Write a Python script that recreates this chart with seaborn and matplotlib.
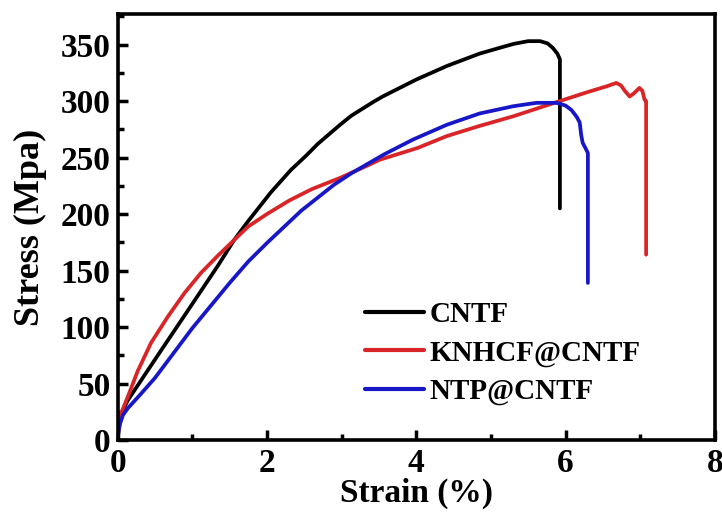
import matplotlib
matplotlib.use("Agg")
import matplotlib.pyplot as plt
from matplotlib.ticker import MultipleLocator
import seaborn as sns
import pandas as pd

# ---- data ----
series_names = ["CNTF", "KNHCF@CNTF", "NTP@CNTF"]

cntf_strain = [0, 0.01, 0.03, 0.06, 0.134, 0.447, 0.67, 0.894, 1.117, 1.34, 1.56,
               1.74, 2.05, 2.32, 2.53, 2.68, 2.98, 3.13, 3.42, 3.55, 4.0, 4.41,
               4.85, 5.3, 5.5, 5.66, 5.76, 5.83, 5.89, 5.925, 5.925]
cntf_stress = [0, 8, 17, 25, 35, 66, 88, 110, 132, 154, 177,
               193, 219, 239, 252, 262, 279, 287, 299, 304, 319, 331,
               342, 350.5, 353, 353, 351, 347, 342, 337, 205]

knhcf_strain = [0, 0.01, 0.03, 0.06, 0.134, 0.268, 0.447, 0.67, 0.894, 1.117, 1.34,
                1.56, 1.75, 2.0, 2.3, 2.6, 2.98, 3.35, 3.51, 4.02, 4.41, 4.85, 5.3,
                5.925, 6.3, 6.55, 6.68, 6.74, 6.8, 6.86, 6.92, 6.99, 7.03, 7.06,
                7.08, 7.08]
knhcf_stress = [0, 8, 17, 26, 38, 61, 86, 109, 130, 148, 163,
                177, 189, 200, 212, 222, 232, 243, 248, 258.5, 269, 278, 286.5,
                300, 308, 313, 316, 314, 308.6, 304, 307, 311.6, 309, 301,
                300, 164]

ntp_strain = [0, 0.01, 0.03, 0.07, 0.134, 0.3, 0.5, 0.75, 1.0, 1.25, 1.5, 1.75,
              2.01, 2.46, 2.9, 3.13, 3.575, 3.96, 4.41, 4.85, 5.3, 5.61, 5.88, 6.0,
              6.08, 6.15, 6.19, 6.21, 6.23, 6.27, 6.3, 6.3]
ntp_stress = [0, 7, 14, 22, 28, 40, 55, 77, 99, 119, 139, 158,
              175, 203, 226, 236, 253, 266, 279, 289, 295.4, 298.4, 298.4, 296,
              292, 286, 281, 270, 263, 258, 254, 139]

x_ticks = [0, 2, 4, 6, 8]
y_ticks = [0, 50, 100, 150, 200, 250, 300, 350]
series_colors = ["#000000", "#d92528", "#1717c8"]

# ---- build long-form table ----
frames = []
for name, xs, ys in zip(series_names,
                        [cntf_strain, knhcf_strain, ntp_strain],
                        [cntf_stress, knhcf_stress, ntp_stress]):
    frames.append(pd.DataFrame({"Strain": xs, "Stress": ys, "Sample": name}))
df = pd.concat(frames, ignore_index=True)

sns.set_theme(style="ticks")
plt.rcParams["font.family"] = ["Liberation Serif", "DejaVu Serif"]
plt.rcParams["font.weight"] = "bold"
for key in ["text.color", "axes.labelcolor", "xtick.color", "ytick.color",
            "axes.edgecolor"]:
    plt.rcParams[key] = "black"

fig = plt.figure(figsize=(7.22, 5.12), dpi=100)
ax = fig.add_axes([0.163, 0.1406, 0.827, 0.832])

sns.lineplot(data=df, x="Strain", y="Stress", hue="Sample", hue_order=series_names,
             palette=series_colors, estimator=None, sort=False, units="Sample",
             linewidth=2.7, ax=ax)

ax.set_xlim(0, 8)
ax.set_ylim(0, 377)
ax.set_xticks(x_ticks)
ax.set_yticks(y_ticks)
ax.xaxis.set_minor_locator(MultipleLocator(1))
ax.yaxis.set_minor_locator(MultipleLocator(25))
ax.tick_params(axis="both", which="major", direction="in", length=7, width=2.5,
               labelsize=24, colors="black")
ax.tick_params(axis="x", which="major", pad=6)
ax.tick_params(axis="y", which="major", pad=5)
ax.tick_params(axis="both", which="minor", direction="in", length=4, width=2.5,
               colors="black")
for lab in ax.get_xticklabels() + ax.get_yticklabels():
    lab.set_fontweight("bold")
for sp in ax.spines.values():
    sp.set_linewidth(2.6)
    sp.set_color("black")
    sp.set_visible(True)

ax.set_xlabel("Strain (%)", fontsize=24, fontweight="bold", labelpad=-1)
ax.set_ylabel("Stress (Mpa)", fontsize=26, fontweight="bold", labelpad=10)

leg = ax.legend(loc="upper left", bbox_to_anchor=(0.395, 0.353), frameon=False,
                handlelength=2.0, handletextpad=0.2,
                labelspacing=0.38, borderaxespad=0,
                prop={"weight": "bold", "size": 21})
for line in leg.get_lines():
    line.set_linewidth(3)
for t in leg.get_texts():
    t.set_color("black")

fig.savefig("out.png", dpi=100)
